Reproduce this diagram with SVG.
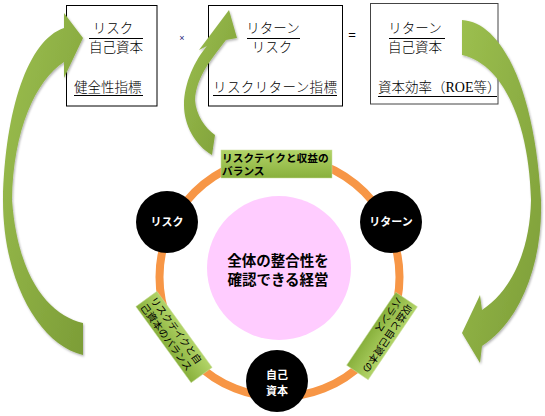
<svg xmlns="http://www.w3.org/2000/svg" width="545" height="416" viewBox="0 0 545 416">
<defs>
<style>
.box{fill:#fff;stroke:#000;stroke-width:1}
.bt{font-family:"Noto Sans CJK JP","Liberation Sans",sans-serif;font-size:13.5px;font-weight:300;fill:#000}
.ul{stroke:#000;stroke-width:1}
.node{fill:#000}
.nt{font-family:"Noto Sans CJK JP","Liberation Sans",sans-serif;font-size:11px;font-weight:bold;fill:#fff;text-anchor:middle}
.lbl{fill:url(#lg);stroke:#c9dc9f;stroke-width:0.5}
.lt{font-family:"Noto Sans CJK JP","Liberation Sans",sans-serif;font-size:10.7px;font-weight:bold;fill:#000}
.lt2{font-family:"Noto Sans CJK JP","Liberation Sans",sans-serif;font-size:10px;fill:#000}
.arrow{fill:url(#ag);filter:url(#sh)}
</style>
<linearGradient id="lg" x1="0" y1="0" x2="0" y2="1">
<stop offset="0" stop-color="#b2d468"/>
<stop offset="1" stop-color="#88b03c"/>
</linearGradient>
<linearGradient id="ag" x1="0" y1="0" x2="1" y2="1">
<stop offset="0" stop-color="#9cbf4f"/>
<stop offset="1" stop-color="#7c9d37"/>
</linearGradient>
<filter id="sh" x="-20%" y="-20%" width="140%" height="140%">
<feDropShadow dx="1" dy="1.5" stdDeviation="1.2" flood-color="#000" flood-opacity="0.3"/>
</filter>
</defs>
<rect width="545" height="416" fill="#fff"/>

<g id="box1">
<rect class="box" x="66.5" y="5.5" width="90.5" height="100.5"/>
<text class="bt" x="113" y="33" text-anchor="middle">リスク</text>
<line class="ul" x1="89" y1="38.5" x2="143" y2="38.5"/>
<text class="bt" x="116" y="52" text-anchor="middle">自己資本</text>
<text class="bt" x="74" y="92">健全性指標</text>
<line class="ul" x1="74" y1="95.5" x2="143" y2="95.5"/>
</g>

<g id="op-times">
<text x="182" y="41" text-anchor="middle" font-family="Liberation Sans, sans-serif" font-size="9" fill="#1f1f7a">×</text>
</g>

<g id="box2">
<rect class="box" x="208.5" y="5.5" width="134" height="100.5"/>
<text class="bt" x="273" y="33" text-anchor="middle">リターン</text>
<line class="ul" x1="247" y1="38.5" x2="300" y2="38.5"/>
<text class="bt" x="272" y="52" text-anchor="middle">リスク</text>
<text class="bt" x="213" y="92" textLength="124">リスクリターン指標</text>
<line class="ul" x1="213" y1="95.5" x2="337" y2="95.5"/>
</g>

<g id="op-eq">
<text x="352" y="39" text-anchor="middle" font-family="Liberation Sans, sans-serif" font-size="13" fill="#000">=</text>
</g>

<g id="box3">
<rect x="370.5" y="3.5" width="127.5" height="100.5" fill="#fff" stroke="#444" stroke-width="1"/>
<text class="bt" x="415" y="33" text-anchor="middle">リターン</text>
<line class="ul" x1="389" y1="38.5" x2="445" y2="38.5"/>
<text class="bt" x="415" y="52" text-anchor="middle">自己資本</text>
<text class="bt" x="378" y="92">資本効率（<tspan font-family="Liberation Serif, serif" font-weight="normal" font-size="14">ROE</tspan>等）</text>
<line class="ul" x1="378" y1="96.5" x2="497" y2="96.5"/>
</g>

<g id="connectors">
<path class="arrow" d="M83,38 L64,13 L64,28 C28,40 5,110 3,200 C3,282 40,345 83,355 L83,323 C50,315 18,280 12,200 C13,130 36,80 64,62 L64,78 Z"/>
<path class="arrow" d="M462,20 C502,22 535,90 541,200 C543,262 521,321 482,346 L480,363 L462,333 L480,295 L482,310 C512,290 530,250 531,200 C529,122 503,64 462,55 Z"/>
<path class="arrow" d="M229,10 L237,38 L226,40 C214,56 196,76 195,100 C196,115 205,128 215,135 L212,155 C195,145 184,125 184,105 C184,83 195,60 207,46 L199,50 Z"/>
<circle cx="279.5" cy="277" r="120" fill="none" stroke="#f79646" stroke-width="8"/>
</g>

<g id="center">
<circle cx="279" cy="268" r="72" fill="#ffccff"/>
<text x="278" y="266" text-anchor="middle" font-family="Noto Sans CJK JP, Liberation Sans, sans-serif" font-size="14.5" font-weight="bold" fill="#000">全体の整合性を</text>
<text x="278" y="285" text-anchor="middle" font-family="Noto Sans CJK JP, Liberation Sans, sans-serif" font-size="14.5" font-weight="bold" fill="#000">確認できる経営</text>
</g>

<g id="node-risk">
<circle class="node" cx="167" cy="222" r="31"/>
<text class="nt" x="167" y="226">リスク</text>
</g>

<g id="node-return">
<circle class="node" cx="391" cy="222" r="31"/>
<text class="nt" x="391" y="226">リターン</text>
</g>

<g id="node-equity">
<circle class="node" cx="277" cy="381" r="31"/>
<text class="nt" x="277" y="379">自己</text>
<text class="nt" x="277" y="395">資本</text>
</g>

<g id="label-top">
<rect class="lbl" x="221" y="150" width="111" height="28"/>
<text class="lt" x="222" y="161.5">リスクテイクと収益の</text>
<text class="lt" x="222" y="175">バランス</text>
</g>

<g id="label-left" transform="translate(174,337) rotate(54)">
<rect class="lbl" x="-47" y="-13" width="94" height="26"/>
<text class="lt2" x="-44" y="-2">リスクテイクと自</text>
<text class="lt2" x="-44" y="10">己資本のバランス</text>
</g>

<g id="label-right" transform="translate(382,336) rotate(124)">
<rect class="lbl" x="-44" y="-13" width="88" height="26"/>
<text class="lt2" x="-41" y="-2">収益と自己資本の</text>
<text class="lt2" x="-41" y="10">バランス</text>
</g>
</svg>
